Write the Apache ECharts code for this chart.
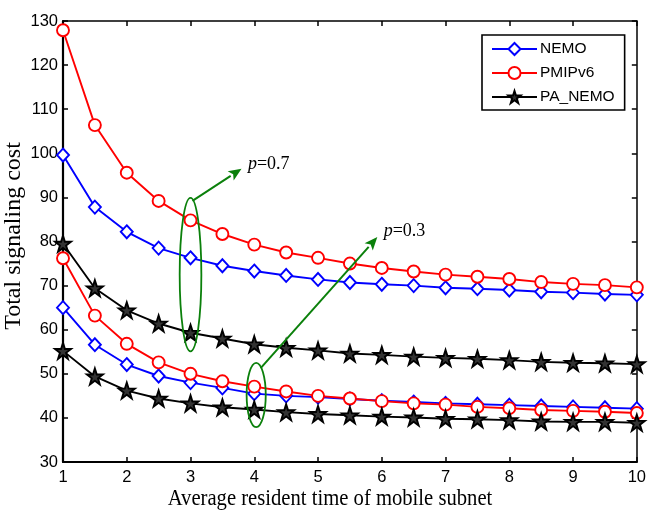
<!DOCTYPE html>
<html>
<head>
<meta charset="utf-8">
<script src="https://cdn.jsdelivr.net/npm/echarts@6/dist/echarts.min.js"></script>
<style>
html, body { margin: 0; padding: 0; background: #fff; }
#main { width: 649px; height: 510px; }
</style>
</head>
<body>
<div id="main"></div>
<script>
// x: average resident time
var xs = [1, 1.5, 2, 2.5, 3, 3.5, 4, 4.5, 5, 5.5, 6, 6.5, 7, 7.5, 8, 8.5, 9, 9.5, 10];
// p = 0.7
var nemo7 = [99.6, 87.8, 82.2, 78.5, 76.3, 74.5, 73.3, 72.3, 71.4, 70.7, 70.3, 70.0, 69.5, 69.3, 69.0, 68.6, 68.4, 68.1, 67.9];
var pmip7 = [127.9, 106.4, 95.6, 89.2, 84.8, 81.7, 79.3, 77.5, 76.3, 75.0, 74.0, 73.2, 72.5, 72.0, 71.5, 70.8, 70.4, 70.1, 69.6];
var pa7 = [79.5, 69.4, 64.4, 61.4, 59.3, 58.0, 56.7, 55.9, 55.3, 54.6, 54.3, 53.9, 53.6, 53.4, 53.1, 52.7, 52.5, 52.4, 52.2];
// p = 0.3
var nemo3 = [65.0, 56.6, 52.1, 49.5, 48.0, 46.8, 45.5, 45.0, 44.7, 44.3, 43.9, 43.6, 43.3, 43.1, 42.9, 42.7, 42.5, 42.3, 42.1];
var pmip3 = [76.2, 63.2, 56.8, 52.6, 50.0, 48.3, 47.1, 46.0, 45.0, 44.4, 43.8, 43.3, 43.0, 42.5, 42.2, 41.8, 41.6, 41.4, 41.1];
var pa3 = [55.2, 49.4, 46.2, 44.4, 43.3, 42.4, 41.9, 41.3, 40.9, 40.6, 40.3, 40.1, 39.8, 39.7, 39.5, 39.2, 39.1, 39.1, 38.9];

var names = ['NEMO', 'PMIPv6', 'PA_NEMO'];
var xTitle = 'Average resident time of mobile subnet';
var yTitle = 'Total signaling cost';

// annotations (data coordinates)
var ellipses = [
	{ c: [3.0, 72.5], rx: 0.17, ry: 17.4 },
	{ c: [4.03, 45.2], rx: 0.15, ry: 7.3 }
];
var arrows = [
	{ from: [3.03, 89.2], to: [3.8, 96.5], label: '0.7', at: [3.9, 97.6] },
	{ from: [4.10, 51.3], to: [5.93, 81.0], label: '0.3', at: [6.03, 82.4] }
];

var starPath = 'path://M50,0 L61.8,35.4 L99,35.4 L69,57.3 L80.3,92.7 L50,70.8 L19.7,92.7 L31,57.3 L1,35.4 L38.2,35.4 Z';

function pairs(vals) {
	var out = [];
	for (var i = 0; i < xs.length; i++) {
		out.push([xs[i], vals[i]]);
	}
	return out;
}

function mkSeries(name, vals, color, symbol, size) {
	return {
		name: name,
		type: 'line',
		data: pairs(vals),
		symbol: symbol,
		symbolSize: size,
		showAllSymbol: true,
		lineStyle: { color: color, width: 1.9 },
		itemStyle: { color: symbol === starPath ? '#333' : '#fff', borderColor: color, borderWidth: 1.9 },
		emphasis: { disabled: true },
		animation: false,
		z: 3
	};
}

var chart = echarts.init(document.getElementById('main'));
var axisFont = { fontFamily: 'Liberation Sans, Arial', fontSize: 16.5, color: '#000' };

var option = {
	animation: false,
	grid: { left: 63, right: 10, top: 21, bottom: 48 },
	legend: {
		data: names,
		orient: 'vertical',
		left: 482,
		top: 35,
		padding: [6, 10, 5, 9],
		itemGap: 8,
		itemWidth: 45,
		itemHeight: 15,
		borderColor: '#000',
		borderWidth: 1.6,
		backgroundColor: '#fff',
		textStyle: { fontFamily: 'Liberation Sans, Arial', fontSize: 15.5, color: '#000', padding: [0, 0, 0, -2] }
	},
	xAxis: [{
		type: 'value', min: 1, max: 10, interval: 1,
		axisLine: { lineStyle: { color: '#000', width: 2.2 } },
		axisTick: { inside: true, length: 5, lineStyle: { color: '#000', width: 1.5 } },
		axisLabel: Object.assign({ margin: 7 }, axisFont),
		splitLine: { show: false }
	}, {
		type: 'value', min: 1, max: 10, interval: 1, position: 'top',
		axisLine: { lineStyle: { color: '#000', width: 1.5 } },
		axisTick: { inside: true, length: 5, lineStyle: { color: '#000', width: 1.5 } },
		axisLabel: { show: false },
		splitLine: { show: false }
	}],
	yAxis: [{
		type: 'value', min: 30, max: 130, interval: 10,
		axisLine: { lineStyle: { color: '#000', width: 2.2 } },
		axisTick: { inside: true, length: 5, lineStyle: { color: '#000', width: 1.5 } },
		axisLabel: Object.assign({ margin: 5 }, axisFont),
		splitLine: { show: false }
	}, {
		type: 'value', min: 30, max: 130, interval: 10, position: 'right',
		axisLine: { lineStyle: { color: '#000', width: 1.5 } },
		axisTick: { inside: true, length: 5, lineStyle: { color: '#000', width: 1.5 } },
		axisLabel: { show: false },
		splitLine: { show: false }
	}],
	series: [
		mkSeries('NEMO', nemo7, '#0000ff', 'diamond', [12, 13]),
		mkSeries('PMIPv6', pmip7, '#ff0000', 'circle', 12),
		mkSeries('PA_NEMO', pa7, '#000000', starPath, 16),
		mkSeries('NEMO', nemo3, '#0000ff', 'diamond', [12, 13]),
		mkSeries('PMIPv6', pmip3, '#ff0000', 'circle', 12),
		mkSeries('PA_NEMO', pa3, '#000000', starPath, 16)
	]
};
chart.setOption(option);

// 绿色标注 + 坐标轴标题
var green = '#0b800b';
var px = function(p) { return chart.convertToPixel({ gridIndex: 0 }, p); };
var g = [];
g.push({
	type: 'text', x: 330, y: 499, scaleX: 0.86,
	style: { text: xTitle, fontFamily: 'Liberation Serif', fontSize: 24, fill: '#000', align: 'center', verticalAlign: 'middle' }
});
g.push({
	type: 'text', x: 14, y: 236, rotation: Math.PI / 2,
	style: { text: yTitle, fontFamily: 'Liberation Serif', fontSize: 24, fill: '#000', align: 'center', verticalAlign: 'middle' }
});
ellipses.forEach(function(e) {
	var c = px(e.c);
	var r = px([e.c[0] + e.rx, e.c[1] + e.ry]);
	g.push({
		type: 'ellipse',
		shape: { cx: c[0], cy: c[1], rx: r[0] - c[0], ry: c[1] - r[1] },
		style: { fill: null, stroke: green, lineWidth: 1.8 },
		z: 10
	});
});
arrows.forEach(function(a) {
	var p0 = px(a.from), p1 = px(a.to);
	var dx = p1[0] - p0[0], dy = p1[1] - p0[1];
	var len = Math.sqrt(dx * dx + dy * dy);
	var ux = dx / len, uy = dy / len;
	var hl = 13, hw = 5.5;
	var bx = p1[0] - ux * hl, by = p1[1] - uy * hl;
	g.push({
		type: 'line',
		shape: { x1: p0[0], y1: p0[1], x2: bx, y2: by },
		style: { stroke: green, lineWidth: 2 },
		z: 10
	});
	g.push({
		type: 'polygon',
		shape: { points: [[p1[0], p1[1]], [bx - uy * hw, by + ux * hw], [bx + ux * 3, by + uy * 3], [bx + uy * hw, by - ux * hw]] },
		style: { fill: green },
		z: 10
	});
	var t = px(a.at);
	g.push({
		type: 'text',
		x: t[0], y: t[1],
		style: {
			text: '{i|p}{n|=' + a.label + '}',
			verticalAlign: 'middle',
			rich: {
				i: { fontFamily: 'Liberation Serif', fontStyle: 'italic', fontSize: 18, fill: '#000' },
				n: { fontFamily: 'Liberation Serif', fontSize: 18, fill: '#000' }
			}
		},
		z: 10
	});
});
chart.setOption({ graphic: g });
</script>
</body>
</html>
